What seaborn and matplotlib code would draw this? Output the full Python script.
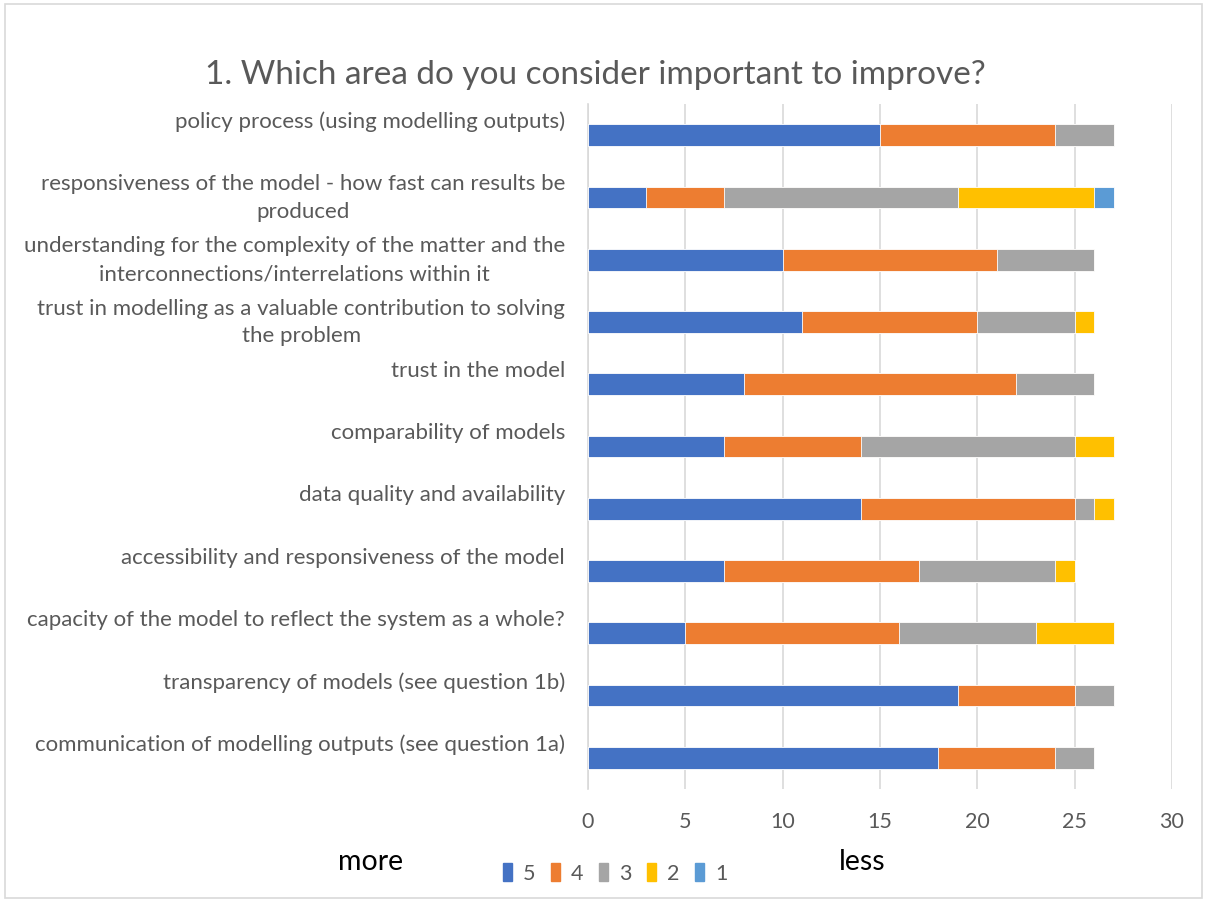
import matplotlib
matplotlib.use("Agg")
import matplotlib.pyplot as plt
import matplotlib.patches as mpatches
import seaborn as sns
import numpy as np
import pandas as pd

categories = [
    "policy process (using modelling outputs)",
    "responsiveness of the model - how fast can results be\nproduced",
    "understanding for the complexity of the matter and the\ninterconnections/interrelations within it",
    "trust in modelling as a valuable contribution to solving\nthe problem",
    "trust in the model",
    "comparability of models",
    "data quality and availability",
    "accessibility and responsiveness of the model",
    "capacity of the model to reflect the system as a whole?",
    "transparency of models (see question 1b)",
    "communication of modelling outputs (see question 1a)",
]
series_names = ["5", "4", "3", "2", "1"]
s5 = [15, 3, 10, 11, 8, 7, 14, 7, 5, 19, 18]
s4 = [9, 4, 11, 9, 14, 7, 11, 10, 11, 6, 6]
s3 = [3, 12, 5, 5, 4, 11, 1, 7, 7, 2, 2]
s2 = [0, 7, 0, 1, 0, 2, 1, 1, 4, 0, 0]
s1 = [0, 1, 0, 0, 0, 0, 0, 0, 0, 0, 0]
colors = ["#4472C4", "#ED7D31", "#A5A5A5", "#FFC000", "#5B9BD5"]
x_ticks = [0, 5, 10, 15, 20, 25, 30]

sns.set_theme(style="white")
plt.rcParams["font.family"] = ["Lato", "DejaVu Sans"]

W, H = 1207, 904
fig = plt.figure(figsize=(W / 100, H / 100), dpi=100)
ax = fig.add_axes([588 / W, 1 - 790 / H, (1172 - 588) / W, (790 - 105) / H])

series = [s5, s4, s3, s2, s1]
cum = np.cumsum(np.array(series), axis=0)
df = pd.DataFrame({"cat": categories})
for k in range(len(series) - 1, -1, -1):
    df["v"] = cum[k]
    sns.barplot(data=df, y="cat", x="v", orient="h", color=colors[k],
                width=0.35, ax=ax, saturation=1, edgecolor="white",
                linewidth=0.6, zorder=3)

ax.set_xlim(0, 30)
ax.set_xticks(x_ticks)
ax.set_xticklabels([str(t) for t in x_ticks], fontsize=15.5, color="#595959")
ax.tick_params(axis="x", length=0, pad=16)
ax.set_yticklabels([])
ax.tick_params(axis="y", length=0)
ax.set_xlabel("")
ax.set_ylabel("")
ax.grid(axis="x", color="#D9D9D9", linewidth=1.2, zorder=0)
ax.set_axisbelow(True)
for s in ["top", "right", "bottom"]:
    ax.spines[s].set_visible(False)
ax.spines["left"].set_color("#D9D9D9")
ax.spines["left"].set_linewidth(1.2)

ytr = ax.get_yaxis_transform()
for i, lab in enumerate(categories):
    ax.text(-23 / 584, i - 0.39, lab, transform=ytr, ha="right", va="top",
            multialignment="center", fontsize=16, color="#595959",
            linespacing=1.48)

fig.text(595 / W, 1 - 75 / H, "1. Which area do you consider important to improve?",
         ha="center", va="center", fontsize=24, color="#595959")

fig.text(371 / W, 1 - 862 / H, "more", ha="center", va="center", fontsize=20.5, color="black")
fig.text(862 / W, 1 - 862 / H, "less", ha="center", va="center", fontsize=20.5, color="black")

handles = [mpatches.Patch(color=c, label=n) for c, n in zip(colors, series_names)]
fig.legend(handles=handles, loc="center", bbox_to_anchor=(615 / W, 1 - 874 / H),
           ncol=5, frameon=False, fontsize=15.5, labelcolor="#595959",
           handlelength=0.45, handleheight=0.9, handletextpad=0.5, columnspacing=0.7)

fig.patches.append(mpatches.Rectangle((5 / W, 5 / H), (W - 10) / W, (H - 10) / H,
                                      transform=fig.transFigure, fill=False,
                                      edgecolor="#D9D9D9", linewidth=1.2))

fig.savefig("out.png", dpi=100)
